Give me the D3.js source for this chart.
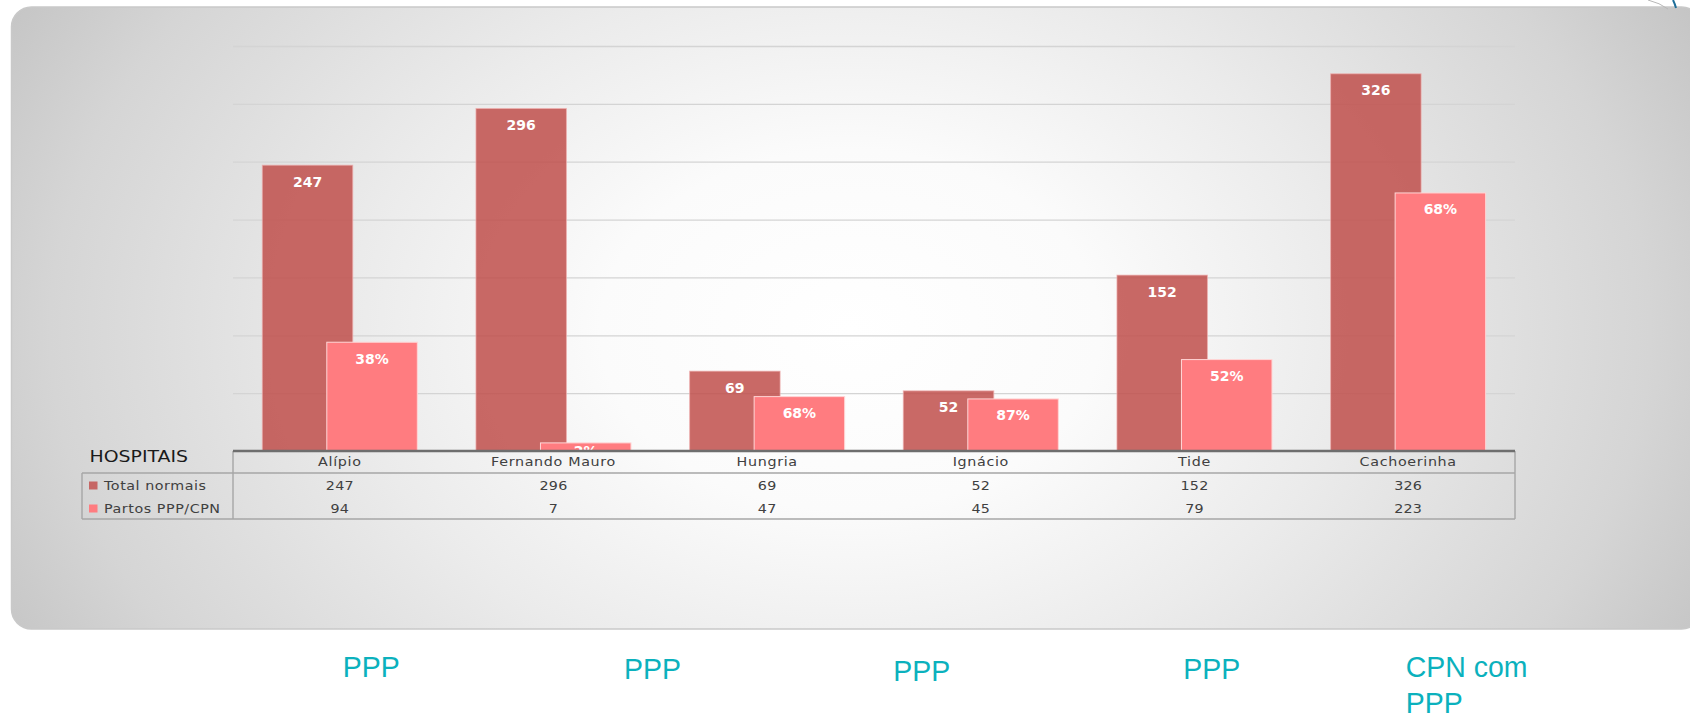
<!DOCTYPE html>
<html>
<head>
<meta charset="utf-8">
<script src="https://cdn.jsdelivr.net/npm/d3@7"></script>
<style>
  html, body { margin: 0; padding: 0; background: #ffffff; }
  svg { display: block; }
</style>
</head>
<body>
<svg id="chart" width="1690" height="714"></svg>
<script>
//CHART DATA
var hospitals = ["Alípio", "Fernando Mauro", "Hungria", "Ignácio", "Tide", "Cachoerinha"];
var totalNormais = [247, 296, 69, 52, 152, 326];
var partosPPP = [94, 7, 47, 45, 79, 223];
var pctLabels = ["38%", "2%", "68%", "87%", "52%", "68%"];
var seriesNames = ["Total normais", "Partos PPP/CPN"];
var yTicks = [50, 100, 150, 200, 250, 300, 350];
var tableTitle = "HOSPITAIS";
var notes = [["PPP"], ["PPP"], ["PPP"], ["PPP"], ["CPN com", "PPP"]];

//colours
var darkColor = "#c0504d",
    pinkColor = "#ff7c80",
    noteColor = "#0bb1bd",
    textColor = "#404040";

function drawChart() {

  var svg = d3.select("#chart"),
      plot = {left: 233, right: 1515, top: 46, bottom: 451},
      table = {header: 473, bottom: 519, legendLeft: 82};

  //background gradient shared by the card and the table cells
  var defs = svg.append("defs");
  var grad = defs.append("radialGradient")
      .attr("id", "bg")
      .attr("gradientUnits", "userSpaceOnUse")
      .attr("cx", 850).attr("cy", 330).attr("r", 1000)
      .attr("gradientTransform", "translate(850,330) scale(1,0.72) translate(-850,-330)");
  [[0, "#ffffff"], [0.25, "#fbfbfb"], [0.5, "#ebebeb"], [0.8, "#d5d5d5"], [1, "#c0c0c0"]]
    .forEach(function(s) {
      grad.append("stop").attr("offset", s[0]).attr("stop-color", s[1]);
    });

  //card
  svg.append("rect")
      .attr("x", 11.5).attr("y", 7)
      .attr("width", 1690).attr("height", 622)
      .attr("rx", 20)
      .attr("fill", "url(#bg)")
      .attr("stroke", "#c9c9c9")
      .attr("stroke-width", 1.5);

  //little logo fragment at top right
  svg.append("path")
      .attr("d", "M1648,0 Q1660,3 1668,9")
      .attr("fill", "none").attr("stroke", "#b8b8b8").attr("stroke-width", 1);
  svg.append("path")
      .attr("d", "M1673,0 Q1675,4 1676,8")
      .attr("fill", "none").attr("stroke", "#1f6f9a").attr("stroke-width", 2);

  //scales
  var x = d3.scaleBand().domain(hospitals).range([plot.left, plot.right]),
      y = d3.scaleLinear().domain([0, 350]).range([plot.bottom, plot.top]);

  var bw = x.bandwidth(),
      barW = bw * 0.4236,
      darkOff = bw * 0.137,
      pinkOff = darkOff + bw * 0.302;

  //gridlines
  var grid = svg.append("g")
      .attr("transform", "translate(" + plot.left + ",0)")
      .call(d3.axisLeft(y).tickValues(yTicks).tickSize(-(plot.right - plot.left)).tickFormat(""));
  grid.select(".domain").remove();
  grid.selectAll("line").attr("stroke", "#d4d4d4").attr("stroke-width", 1.3);

  //bars: total first, PPP/CPN drawn over it
  svg.append("g").selectAll("rect")
      .data(totalNormais)
      .enter().append("rect")
      .attr("x", function(d, i) { return x(hospitals[i]) + darkOff; })
      .attr("y", function(d) { return y(d); })
      .attr("width", barW)
      .attr("height", function(d) { return y(0) - y(d); })
      .attr("fill", darkColor)
      .attr("fill-opacity", 0.86)
      .attr("stroke", "#f0b0b0")
      .attr("stroke-opacity", 0.7)
      .attr("stroke-width", 1);

  svg.append("g").selectAll("rect")
      .data(partosPPP)
      .enter().append("rect")
      .attr("x", function(d, i) { return x(hospitals[i]) + pinkOff; })
      .attr("y", function(d) { return y(d); })
      .attr("width", barW)
      .attr("height", function(d) { return y(0) - y(d); })
      .attr("fill", pinkColor)
      .attr("stroke", "#ffd6d6")
      .attr("stroke-width", 1);

  //label baseline inside the bar top; very short bars push it up
  function labelY(d) {
    return (y(0) - y(d)) < 30 ? y(d) + 13 : y(d) + 21.5;
  }

  //value labels inside bar tops
  svg.append("g").selectAll("text")
      .data(totalNormais)
      .enter().append("text")
      .attr("x", function(d, i) { return x(hospitals[i]) + darkOff + barW / 2; })
      .attr("y", labelY)
      .attr("text-anchor", "middle")
      .style("font", "bold 14px 'DejaVu Sans'")
      .attr("fill", "#ffffff")
      .text(function(d) { return d; });

  svg.append("g").selectAll("text")
      .data(partosPPP)
      .enter().append("text")
      .attr("x", function(d, i) { return x(hospitals[i]) + pinkOff + barW / 2; })
      .attr("y", labelY)
      .attr("text-anchor", "middle")
      .style("font", "bold 14px 'DejaVu Sans'")
      .attr("fill", "#ffffff")
      .text(function(d, i) { return pctLabels[i]; });

  //DATA TABLE under the axis
  svg.append("rect")
      .attr("x", plot.left).attr("y", plot.bottom)
      .attr("width", plot.right - plot.left).attr("height", table.bottom - plot.bottom)
      .attr("fill", "url(#bg)");

  var lines = svg.append("g")
      .attr("stroke", "#a6a6a6")
      .attr("stroke-width", 1.4)
      .attr("fill", "none");
  lines.append("path").attr("d",
      "M" + table.legendLeft + "," + table.header + "H" + plot.right +
      "M" + table.legendLeft + "," + table.bottom + "H" + plot.right +
      "M" + table.legendLeft + "," + table.header + "V" + table.bottom +
      "M" + plot.left + "," + plot.bottom + "V" + table.bottom +
      "M" + plot.right + "," + plot.bottom + "V" + table.bottom);

  //category axis line
  svg.append("line")
      .attr("x1", plot.left).attr("x2", plot.right)
      .attr("y1", plot.bottom).attr("y2", plot.bottom)
      .attr("stroke", "#6e6e6e").attr("stroke-width", 2.5);

  var cellFont = "13px 'DejaVu Sans'";

  //text helper: slide text is a little stretched sideways
  function cell(g, tx, ty, anchor, spacing) {
    return g.append("text")
        .attr("transform", "translate(" + tx + "," + ty + ") scale(1.1,1)")
        .attr("text-anchor", anchor)
        .style("font", cellFont)
        .style("letter-spacing", spacing + "px")
        .attr("fill", textColor);
  }

  //header row: hospital names
  var head = svg.append("g");
  hospitals.forEach(function(h) {
    cell(head, x(h) + bw / 2, 466, "middle", 0.6).text(h);
  });

  //rows of values
  [totalNormais, partosPPP].forEach(function(series, r) {
    var row = svg.append("g");
    series.forEach(function(v, i) {
      cell(row, x(hospitals[i]) + bw / 2, 489.5 + r * 23, "middle", 0.2).text(v);
    });
  });

  //legend keys in first column
  var legend = svg.append("g");
  seriesNames.forEach(function(name, i) {
    legend.append("rect")
        .attr("x", 89).attr("y", 481.5 + i * 23)
        .attr("width", 8.5).attr("height", 8)
        .attr("fill", i === 0 ? "#c66664" : pinkColor);
    cell(legend, 104, 489.5 + i * 23, "start", 0.5).text(name);
  });

  //table title
  svg.append("text")
      .attr("transform", "translate(89.5,462.3) scale(1.22,1)")
      .style("font", "15.5px 'DejaVu Sans'")
      .attr("fill", "#1a1a1a")
      .text(tableTitle);

  //slide notes under the chart
  var noteX = [342.7, 624, 893.3, 1183.3, 1405.7],
      noteY = [677.3, 678.7, 681, 679.3, 676.7];
  notes.forEach(function(lns, i) {
    lns.forEach(function(t, j) {
      svg.append("text")
          .attr("transform", "translate(" + noteX[i] + "," + (noteY[i] + j * 36) + ") scale(0.95,1)")
          .style("font", "30px 'Liberation Sans'")
          .attr("fill", noteColor)
          .text(t);
    });
  });
}

drawChart();
</script>
</body>
</html>
